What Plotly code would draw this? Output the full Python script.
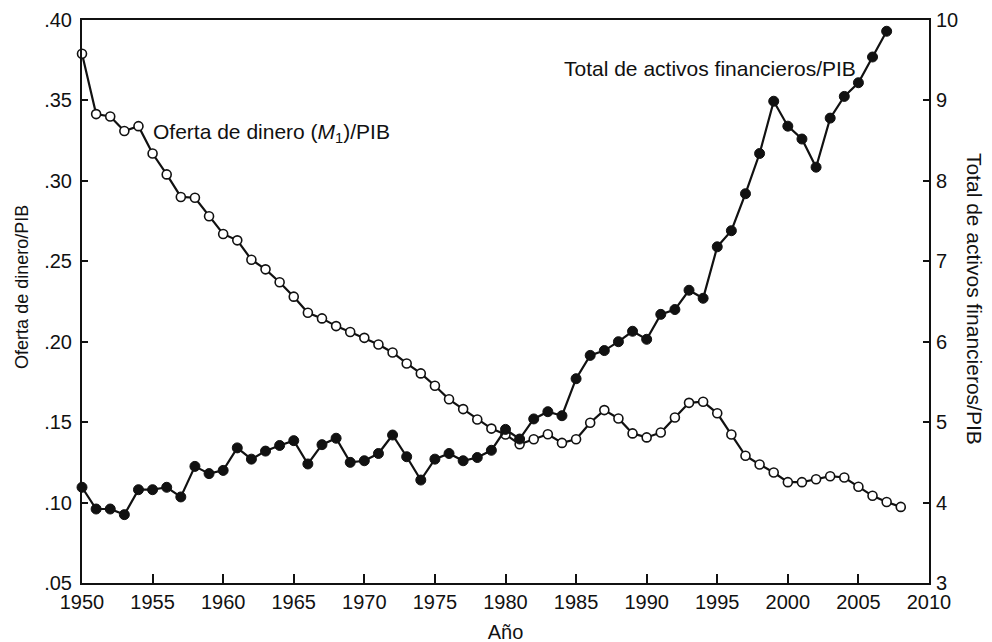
import plotly.graph_objects as go

years_m1 = list(range(1950, 2009))
m1_ratio = [
    0.379, 0.3415, 0.340, 0.331, 0.334, 0.317, 0.304, 0.290, 0.2895, 0.278,
    0.267, 0.263, 0.251, 0.245, 0.237, 0.228, 0.218, 0.2145, 0.2097, 0.206,
    0.2024, 0.1983, 0.1933, 0.1865, 0.1803, 0.1726, 0.1642, 0.1581, 0.1516, 0.146,
    0.1423, 0.1363, 0.1394, 0.1425, 0.1371, 0.1394, 0.1496, 0.1575, 0.1523, 0.143,
    0.1405, 0.1436, 0.1529, 0.162, 0.1627, 0.1555, 0.1423, 0.1291, 0.1237, 0.1187,
    0.1127, 0.1127, 0.1145, 0.1164, 0.1156, 0.1098, 0.1042, 0.1004, 0.0973,
]

years_assets = list(range(1950, 2008))
assets_ratio = [
    4.19, 3.92, 3.92, 3.85, 4.16, 4.16, 4.19, 4.07, 4.45, 4.36,
    4.40, 4.68, 4.54, 4.64, 4.71, 4.77, 4.48, 4.72, 4.80, 4.50,
    4.52, 4.61, 4.84, 4.57, 4.28, 4.54, 4.61, 4.52, 4.56, 4.65,
    4.91, 4.79, 5.04, 5.13, 5.08, 5.54, 5.83, 5.89, 6.00, 6.13,
    6.03, 6.34, 6.40, 6.64, 6.54, 7.18, 7.38, 7.84, 8.34, 8.99,
    8.68, 8.52, 8.17, 8.78, 9.05, 9.22, 9.54, 9.86,
]

x_ticks = list(range(1950, 2011, 5))
left_ticks = [0.05, 0.10, 0.15, 0.20, 0.25, 0.30, 0.35, 0.40]
left_ticktext = [".05", ".10", ".15", ".20", ".25", ".30", ".35", ".40"]
right_ticks = [3, 4, 5, 6, 7, 8, 9, 10]

FONT = "Liberation Sans, Arial, sans-serif"
INK = "#111111"

fig = go.Figure()

fig.add_trace(go.Scatter(
    x=years_assets, y=assets_ratio, yaxis="y2", mode="lines+markers",
    line=dict(color=INK, width=2.2),
    marker=dict(size=10, color=INK, line=dict(color=INK, width=1)),
    showlegend=False, cliponaxis=False,
))
fig.add_trace(go.Scatter(
    x=years_m1, y=m1_ratio, mode="lines+markers",
    line=dict(color=INK, width=2.2),
    marker=dict(size=9, color="white", line=dict(color=INK, width=1.6)),
    showlegend=False, cliponaxis=False,
))

fig.update_layout(
    width=992, height=642,
    margin=dict(l=74, r=71, t=12, b=67),
    paper_bgcolor="white", plot_bgcolor="white",
    font=dict(family=FONT, size=20, color=INK),
    xaxis=dict(
        range=[1950, 2010], tickvals=x_ticks, ticks="inside", ticklen=9,
        tickwidth=1.5, tickcolor=INK, showline=True, linewidth=2, linecolor=INK,
        mirror=True, showgrid=False, zeroline=False, automargin=False,
        title=dict(text="Año", standoff=13, font=dict(size=20)),
    ),
    yaxis=dict(
        range=[0.05, 0.40], tickvals=left_ticks, ticktext=left_ticktext,
        ticks="inside", ticklen=6, tickwidth=1.5, tickcolor=INK,
        showline=True, linewidth=2, linecolor=INK, showgrid=False, zeroline=False,
        ticklabelstandoff=4, automargin=False,
    ),
    yaxis2=dict(
        range=[3, 10], tickvals=right_ticks, overlaying="y", side="right",
        ticks="inside", ticklen=6, tickwidth=1.5, tickcolor=INK,
        showline=True, linewidth=2, linecolor=INK, showgrid=False, zeroline=False,
        ticklabelstandoff=1, automargin=False,
    ),
    annotations=[
        dict(text="Oferta de dinero (<i>M</i><sub>1</sub>)/PIB", x=1954.9, y=0.3297,
             xref="x", yref="y", xanchor="left", yanchor="middle", showarrow=False,
             font=dict(size=21)),
        dict(text="Total de activos financieros/PIB", x=1984.0, y=9.40,
             xref="x", yref="y2", xanchor="left", yanchor="middle", showarrow=False,
             font=dict(size=21)),
        dict(text="Oferta de dinero/PIB", x=-0.0708, y=0.526,
             xref="paper", yref="paper", xanchor="center", yanchor="middle",
             textangle=-90, showarrow=False, font=dict(size=18)),
        dict(text="Total de activos financieros/PIB", x=1.054, y=0.505,
             xref="paper", yref="paper", xanchor="center", yanchor="middle",
             textangle=90, showarrow=False, font=dict(size=21)),
    ],
)

fig.write_html("out.html")
